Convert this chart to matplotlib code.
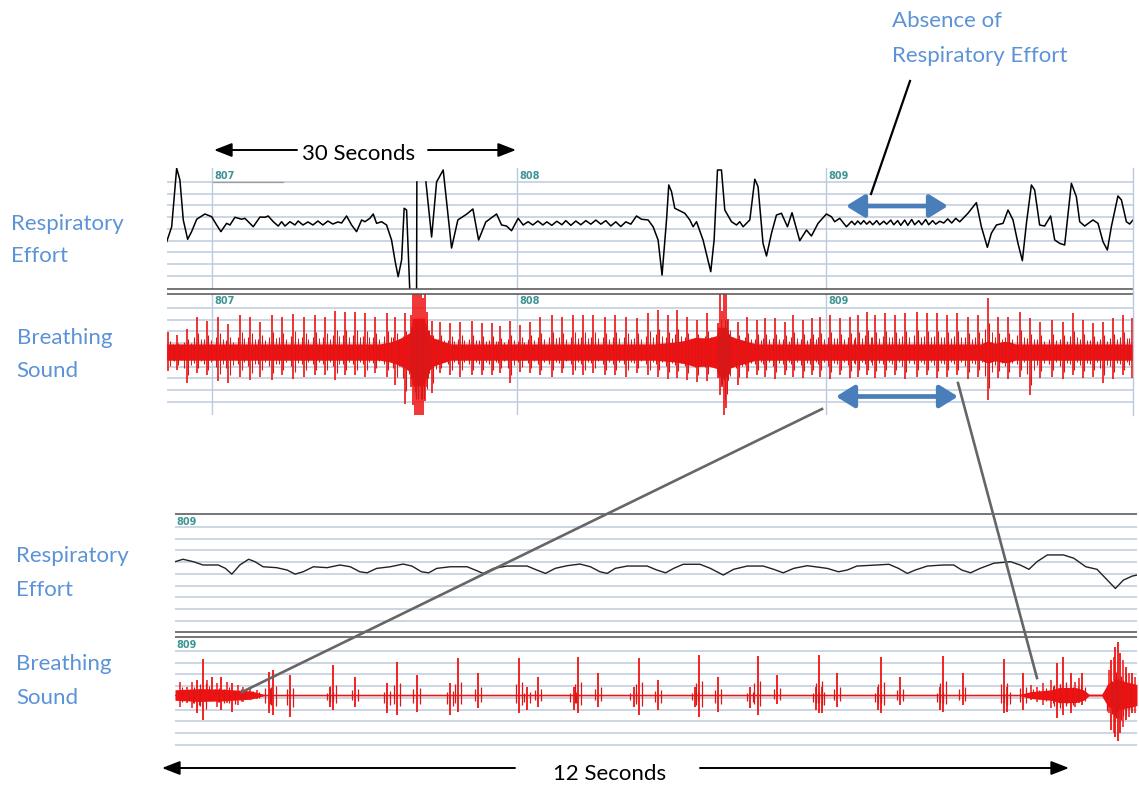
import numpy as np
import matplotlib
matplotlib.use('Agg')
import matplotlib.pyplot as plt

plt.rcParams['font.family'] = ['Lato', 'DejaVu Sans']

W, H = 1139, 785
NAN = float('nan')

# ---------------- data ----------------
epoch_labels = ['807', '808', '809']
epoch_times = [0.0, 30.0, 60.4]          # seconds, overview time axis
zoom_label = '809'

# Overview respiratory effort (time s, amplitude in grid divisions; nan = trace off-scale)
effort_t = [-4.45, -3.96, -3.47, -3.15, -2.82, -2.39, -2.00, -1.50, -0.69, -0.03,
            0.46, 0.88, 1.44, 1.77, 2.26, 2.92, 3.24, 4.06, 4.72, 5.21,
            5.53, 6.03, 6.52, 6.85, 7.18, 7.67, 8.16, 8.48, 8.95, 9.44,
            9.93, 10.42, 10.91, 11.40, 11.89, 12.39, 12.75, 13.24, 13.73, 14.22,
            14.72, 15.04, 15.53, 15.86, 16.19, 16.68, 17.17, 17.66, 17.99, 18.31,
            18.65, 18.90, 19.14, 19.46, 20.12, 20.15, 20.60, 21.04, 21.60, 22.09, 22.74,
            23.56, 24.18, 25.07, 25.66, 26.22, 26.93, 27.99, 28.48, 28.97, 29.46,
            30.11, 30.60, 31.09,
            31.55, 32.05, 32.54, 32.93, 33.42, 33.91, 34.41, 34.80, 35.29, 35.78,
            36.27, 36.76, 37.26, 37.75, 38.24, 38.73, 39.22, 39.71, 40.20, 40.70, 41.19,
            41.75, 42.24, 42.89, 43.38, 43.87, 44.26, 44.70, 44.92, 45.19, 45.51,
            46.50, 46.99, 47.31, 47.65, 48.29, 49.05, 49.38, 49.71, 50.10, 50.43,
            51.09, 51.58, 51.90, 52.23, 52.89, 53.38, 53.70, 54.19, 54.53, 55.02,
            55.51, 56.00, 56.59, 57.04, 57.80, 58.46, 58.95, 59.60, 60.42, 60.91,
            61.24, 61.73, 62.39,
            62.91, 63.21, 63.50, 63.80, 64.09, 64.39, 64.68, 64.98, 65.37, 65.66,
            66.06, 66.35, 66.75, 67.04, 67.43, 67.73, 68.12, 68.42, 68.81, 69.10,
            69.50, 69.79, 70.19, 70.48, 70.87, 71.17, 71.56, 71.96, 72.35, 72.74,
            73.14, 73.53,
            74.34, 75.17, 75.66, 76.25, 76.64, 77.14, 77.79, 78.28, 78.77, 79.26,
            79.69, 80.09, 80.58, 80.90, 81.39, 81.88, 82.47, 82.87, 83.36, 83.85,
            84.51, 85.00, 85.33, 85.82, 86.63, 87.13, 87.62, 88.05, 88.44, 89.09,
            89.43, 89.92, 90.24, 90.57]
effort_v = [-1.60, -0.32, 4.68, 3.68, 0.26, -1.39, -0.74, 0.32, 0.77, 0.54,
            -0.17, -0.74, -0.03, -0.17, 0.49, 0.32, 0.40, -0.32, 0.51, 0.49,
            0.60, 0.11, -0.26, 0.11, -0.26, 0.11, -0.17, 0.17, -0.17, 0.09,
            -0.17, 0.17, -0.17, 0.17, -0.09, 0.09, 0.00, 0.60, -0.17, -0.74,
            0.26, 0.11, 0.40, 0.77, -0.03, 0.11, -0.17, -1.45, -3.16, -4.59,
            -3.16, 1.26, 1.11, -5.90, -5.90, 3.51, NAN, 3.51, -1.20, 3.51, 4.53,
            -2.14, 0.26, 0.77, 1.20, -1.45, 0.09, 0.77, -0.17, -0.26, -0.66,
            0.40, -0.17, 0.11,
            -0.17, 0.17, -0.17, 0.10, -0.20, 0.15, -0.15, 0.20, -0.20, 0.17,
            -0.15, 0.20, -0.10, 0.25, -0.10, 0.20, -0.25, 0.10, -0.30, 0.10, -0.10,
            0.60, 0.32, 0.26, -0.32, -1.45, -4.45, 0.26, 3.25, 2.68, 1.26,
            0.83, 0.26, -0.32, 0.11, -1.45, -4.16, -1.45, 4.53, 4.53, 1.11,
            0.11, -0.17, 0.11, -0.32, 0.26, 3.74, 3.10, -1.74, -2.82, -0.88,
            0.68, 0.83, -0.32, 0.88, -1.51, -0.60, -1.11, -0.03, 0.77, 0.54,
            0.11, 0.40, -0.32,
            0.15, -0.15, 0.17, -0.10, 0.20, -0.10, 0.15, -0.15, 0.20, -0.15,
            0.15, -0.10, 0.25, -0.15, 0.20, -0.20, 0.25, -0.20, 0.30, -0.15,
            0.20, -0.15, 0.30, -0.15, 0.20, -0.10, 0.15, 0.00, 0.35, 0.00,
            0.40, 0.10,
            0.83, 1.74, -0.32, -2.08, -0.88, -0.17, -0.03, 1.11, 0.26, -1.74,
            -3.22, -0.03, 3.25, 2.82, -0.17, -0.26, 0.60, -1.45, -1.74, -1.88,
            3.39, 2.25, 0.11, -0.26, 0.26, -0.03, -1.60, -2.31, -0.32, 2.31,
            1.97, 0.11, -0.09, 0.26]

# Overview breathing sound: beat spikes (time s, top, bottom) and noise envelope
sound_spike_t = [-4.30, -3.47, -2.49, -1.50, -0.52, 0.62, 1.60, 2.75, 3.74, 4.72,
                 5.87, 6.85, 7.99, 9.04, 10.12, 11.11, 12.09, 13.07, 14.06, 15.04,
                 16.02, 17.17, 17.99, 18.97,
                 19.56, 19.76, 19.95, 20.15, 20.35, 20.54, 20.74, 20.94, 21.13,
                 21.60, 22.41, 23.40, 24.38, 25.53, 26.51, 27.49, 28.31, 29.29, 30.28,
                 31.26, 32.24, 33.39, 34.38, 35.52, 36.50, 37.48, 38.63, 39.61, 40.76,
                 41.75, 42.89, 43.84, 44.82, 45.71, 46.69, 47.68, 48.66,
                 49.74, 49.94, 50.14, 50.33, 50.53, 50.73,
                 51.71, 52.60, 53.58, 54.37, 55.35, 56.33, 57.12, 58.10, 58.98, 59.77,
                 60.75, 61.73, 62.72, 63.50, 64.39, 65.17, 66.16, 67.14, 68.12, 69.30,
                 70.28, 71.27, 72.25, 73.23, 74.31, 75.30, 76.28, 77.26, 78.25, 79.43,
                 80.41, 81.39, 82.57, 83.65, 84.64, 85.62, 86.60, 87.59, 88.57, 89.55,
                 90.44]
sound_spike_hi = [1.74, 1.45, 2.00, 3.00, 2.65, 3.00, 2.37, 3.16, 3.00, 2.60,
                  3.16, 3.00, 3.22, 3.00, 3.16, 3.00, 3.50, 3.45, 3.45, 3.30,
                  3.00, 3.30, 3.00, 3.30,
                  3.2, 5.0, 5.0, 5.0, 5.0, 5.0, 4.6, 5.0, 3.4,
                  2.65, 2.60, 2.50, 2.60, 2.65, 2.50, 2.50, 2.20, 2.65, 2.30,
                  2.60, 3.00, 3.16, 3.00, 3.16, 3.16, 3.16, 3.00, 3.16, 3.00,
                  2.90, 3.30, 3.59, 3.16, 3.59, 3.02, 2.74, 3.30,
                  2.5, 5.0, 3.5, 5.0, 5.0, 2.8,
                  2.59, 3.02, 2.74, 2.88, 2.88, 2.59, 3.16, 2.74, 2.88, 3.02,
                  3.16, 2.88, 3.02, 3.16, 3.45, 3.16, 3.30, 3.16, 3.30, 3.45,
                  3.30, 3.30, 3.16, 3.30, 3.02, 3.16, 4.59, 3.02, 3.02, 3.45,
                  2.88, 2.59, 2.74, 2.59, 3.30, 2.74, 2.45, 2.59, 2.88, 3.16,
                  2.88]
sound_spike_lo = [-1.60, -1.50, -2.65, -1.80, -2.00, -2.50, -2.65, -2.10, -2.40, -2.10,
                  -2.40, -2.00, -2.30, -2.10, -2.00, -2.00, -2.40, -2.00, -2.00, -2.10,
                  -1.80, -2.10, -2.80, -4.40,
                  -3.0, -4.5, -5.4, -5.4, -5.4, -5.4, -5.4, -4.2, -3.0,
                  -3.50, -1.80, -2.00, -2.10, -2.00, -2.00, -2.00, -1.80, -2.65, -1.70,
                  -1.80, -2.00, -2.10, -1.80, -2.00, -2.00, -1.80, -2.00, -2.00, -2.10,
                  -1.80, -2.00, -2.10, -2.30, -2.20, -2.40, -2.60, -2.50,
                  -2.2, -3.7, -3.0, -5.4, -4.8, -2.5,
                  -2.80, -2.20, -2.00, -2.10, -2.30, -2.00, -2.10, -2.20, -2.00, -2.10,
                  -2.30, -2.00, -2.20, -2.10, -2.00, -2.20, -2.10, -2.00, -2.30, -2.10,
                  -2.00, -2.20, -2.10, -2.00, -2.30, -2.10, -4.10, -2.20, -2.30, -2.10,
                  -3.70, -2.20, -2.10, -2.30, -2.00, -2.20, -2.10, -2.65, -2.30, -2.00,
                  -2.20]
sound_env_t = [-4.45, 16.5, 17.5, 18.3, 19.0, 19.5, 19.7, 20.9, 21.2, 21.8,
               22.6, 23.5, 43.5, 45.5, 46.5, 47.5, 48.8, 49.6, 49.8, 50.6,
               50.9, 51.5, 52.5, 53.5, 75.6, 76.3, 77.0, 77.8, 78.3, 79.0, 90.6]
sound_env = [0.70, 0.70, 0.85, 1.10, 1.40, 1.70, 2.90, 2.90, 1.70, 1.20,
             0.95, 0.70, 0.70, 0.85, 1.00, 1.25, 1.20, 1.40, 2.10, 2.10,
             1.40, 1.20, 0.95, 0.70, 0.70, 0.95, 0.75, 0.90, 0.90, 0.70, 0.70]

# 12-second zoom: respiratory effort
zoom_effort_t = [0.00, 0.10, 0.23, 0.35, 0.54, 0.63, 0.71, 0.81, 0.92, 1.00,
                 1.10, 1.27, 1.40, 1.50, 1.60, 1.73, 1.90, 2.06, 2.19, 2.31,
                 2.40, 2.52, 2.69, 2.85, 2.96, 3.08, 3.17, 3.27, 3.44, 3.65,
                 3.75, 3.85, 3.98, 4.15, 4.40, 4.52, 4.63, 4.75, 4.90, 5.06,
                 5.19, 5.31, 5.40, 5.50, 5.65, 5.90, 6.02, 6.13, 6.23, 6.35,
                 6.56, 6.69, 6.85, 6.98, 7.15, 7.35, 7.48, 7.60, 7.73, 7.90,
                 8.15, 8.29, 8.40, 8.52, 8.77, 8.92, 9.04, 9.15, 9.25, 9.40,
                 9.60, 9.73, 9.83, 9.94, 10.06, 10.23, 10.44, 10.56, 10.67, 10.77,
                 10.90, 11.10, 11.23, 11.38, 11.52, 11.63, 11.75, 11.85, 11.96, 12.02]
zoom_effort_v = [0.54, 0.75, 0.54, 0.26, 0.26, -0.03, -0.52, 0.26, 0.75, 0.54,
                 0.11, 0.03, -0.17, -0.52, -0.32, 0.11, 0.03, 0.26, 0.11, -0.32,
                 -0.41, -0.03, 0.11, 0.34, 0.17, -0.32, -0.41, -0.03, 0.11, 0.11,
                 -0.17, -0.46, -0.03, 0.17, 0.17, -0.17, -0.46, -0.03, 0.20, 0.34,
                 0.11, -0.32, -0.46, -0.03, 0.17, 0.17, -0.17, -0.41, -0.03, 0.32,
                 0.32, -0.03, -0.60, -0.11, 0.17, 0.17, -0.11, -0.41, -0.03, 0.20,
                 -0.03, -0.32, -0.17, 0.17, 0.26, 0.32, -0.03, -0.46, -0.17, 0.17,
                 0.26, 0.26, -0.17, -0.41, -0.03, 0.41, 0.54, 0.26, -0.11, 0.54,
                 1.12, 1.12, 0.84, 0.11, -0.11, -0.89, -1.75, -1.03, -0.69, -0.60]

# 12-second zoom: breathing sound beat spikes
zoom_spike_t = [0.27, 0.35, 0.46, 0.58, 0.71,
                1.17, 1.23, 1.44,
                1.94, 1.98, 2.25,
                2.65, 2.78, 3.02,
                3.44, 3.54, 3.79,
                4.30, 4.40, 4.54,
                4.98, 5.04, 5.29,
                5.73, 5.80, 6.04,
                6.50, 6.55, 6.79,
                7.19, 7.28, 7.52,
                8.01, 8.05, 8.08, 8.27,
                8.79, 8.82, 9.06,
                9.56, 9.60, 9.84,
                10.36, 10.40, 10.60,
                11.02, 11.10, 11.19, 11.33,
                11.69, 11.75, 11.78, 11.81, 11.88, 11.96]
zoom_spike_hi = [1.28, 3.05, 1.57, 1.57, 1.00,
                 1.99, 2.14, 1.71,
                 0.71, 2.56, 1.57,
                 0.99, 2.85, 1.71,
                 1.00, 3.14, 1.85,
                 3.14, 0.71, 1.57,
                 0.71, 3.28, 1.85,
                 0.71, 3.14, 1.28,
                 0.71, 3.42, 1.57,
                 0.71, 3.33, 1.71,
                 0.71, 3.42, 0.71, 1.85,
                 0.71, 3.28, 1.57,
                 0.71, 3.33, 1.85,
                 3.05, 0.71, 1.91,
                 2.76, 3.28, 1.85, 1.85,
                 2.99, 4.13, 4.56, 3.56, 2.42, 1.85]
zoom_spike_lo = [-1.57, -2.14, -0.43, -1.28, -1.43,
                 -1.57, -1.71, -1.85,
                 -1.00, -1.28, -1.00,
                 -1.57, -1.71, -1.43,
                 -1.71, -1.43, -1.14,
                 -1.57, -1.28, -1.00,
                 -1.28, -1.57, -1.00,
                 -1.00, -1.71, -1.28,
                 -1.00, -1.85, -1.43,
                 -1.14, -1.71, -0.77,
                 -1.28, -1.57, -1.51, -1.00,
                 -1.28, -1.57, -0.85,
                 -1.28, -1.43, -0.85,
                 -1.51, -1.43, -1.28,
                 -1.99, -1.71, -1.57, -0.85,
                 -2.99, -3.56, -3.91, -3.28, -2.14, -1.57]
# 12-second zoom: noisy (snoring) segments, extra spikes
zoom_noise_t = [0.06, 0.15, 0.21, 0.40, 0.52, 0.65, 0.79, 0.85, 0.94, 1.02,
                10.69, 10.77, 10.85, 10.94, 11.25, 11.29,
                11.67, 11.73, 11.85, 11.92, 12.00]
zoom_noise_hi = [1.14, 0.71, 1.14, 1.28, 1.00, 1.14, 0.85, 0.71, 0.57, 0.43,
                 0.85, 0.71, 1.00, 1.28, 1.14, 1.42,
                 2.14, 3.28, 2.99, 1.85, 1.57]
zoom_noise_lo = [-1.00, -0.71, -1.14, -0.43, -1.00, -0.71, -0.85, -0.57, -0.43, -0.37,
                 -0.43, -0.57, -0.85, -1.14, -1.00, -0.71,
                 -1.57, -3.28, -2.71, -1.85, -1.57]
zoom_env_t = [0.00, 0.30, 0.60, 0.95, 1.08, 1.12, 10.55, 10.70, 10.95, 11.05,
              11.25, 11.35, 11.42, 11.58, 11.66, 11.78, 11.90, 12.02]
zoom_env = [0.45, 0.55, 0.50, 0.35, 0.12, 0.06, 0.06, 0.30, 0.45, 0.65,
            0.65, 0.45, 0.08, 0.08, 1.00, 1.30, 1.10, 0.90]

# ---------------- styling ----------------
BLUE_TXT = '#5B93D6'
ARROW_BLUE = '#4A7EBB'
GRID = '#C7D3E1'
VGRID = '#B9CBDD'
SEP = '#4F4F4F'
RED = '#F01212'
DRED = '#D81818'
TEAL = '#3E9494'
FS = 16

fig = plt.figure(figsize=(W / 100, H / 100), dpi=100)
fig.patch.set_facecolor('white')


def px_axes(x0, y0, x1, y1):
    ax = fig.add_axes([x0 / W, 1 - y1 / H, (x1 - x0) / W, (y1 - y0) / H])
    ax.set_axis_off()
    return ax


def arr(a):
    return np.asarray(a, dtype=float)


# overview strips
ax_eff = px_axes(167, 168, 1133, 289)
ax_eff.set_xlim(-4.42, 90.57)
ax_eff.set_ylim(-5.64, 4.70)
ax_snd = px_axes(167, 294, 1133, 415)
ax_snd.set_xlim(-4.42, 90.57)
ax_snd.set_ylim(-5.38, 4.96)

# zoom strips
ax_zeff = px_axes(175, 514, 1137, 632)
ax_zeff.set_xlim(0, 12.02)
ax_zeff.set_ylim(-5.47, 4.62)
ax_zsnd = px_axes(175, 637, 1137, 758)
ax_zsnd.set_xlim(0, 12.02)
ax_zsnd.set_ylim(-5.38, 4.96)

for ax in (ax_eff, ax_zeff):
    for k in range(-5, 4):
        ax.axhline(k + 0.5, color=GRID, lw=1.3, zorder=0)
for ax in (ax_snd, ax_zsnd):
    for k in range(9):
        ax.axhline(3.76 - k, color=GRID, lw=1.3, zorder=0)

for ax, yl in ((ax_eff, 0.935), (ax_snd, 0.942)):
    for t, lab in zip(epoch_times, epoch_labels):
        ax.axvline(t, color=VGRID, lw=1.0, zorder=0.5)
        ax.text(t + 0.2, yl, lab, transform=ax.get_xaxis_transform(),
                fontsize=7, color=TEAL, fontweight='bold', family='DejaVu Sans',
                ha='left', va='center', zorder=1)

# overview effort trace
n = min(len(effort_t), len(effort_v))
ax_eff.plot(arr(effort_t[:n]), arr(effort_v[:n]), color='black', lw=1.1,
            solid_joinstyle='round', zorder=3)

# overview sound
et, ev = arr(sound_env_t), arr(sound_env)
ax_snd.fill_between(et, -ev, ev, color=RED, lw=0, zorder=2)
st, sh, sl = arr(sound_spike_t), arr(sound_spike_hi), arr(sound_spike_lo)
ax_snd.vlines(st, sl, sh, color=RED, lw=1.2, zorder=3)
ax_snd.vlines(st + 0.16, 0.75 * sl, 0.55 * sh, color=DRED, lw=0.8, zorder=3)
ax_snd.vlines(st - 0.22, 0.5 * sl, 0.42 * sh, color=DRED, lw=0.8, zorder=3)
ax_snd.vlines(st + 0.45, 0.42 * sl, 0.38 * sh, color=DRED, lw=0.7, zorder=3)

# zoom effort trace
n = min(len(zoom_effort_t), len(zoom_effort_v))
ax_zeff.plot(arr(zoom_effort_t[:n]), arr(zoom_effort_v[:n]), color='#222222',
             lw=1.0, solid_joinstyle='round', zorder=3)

# zoom sound
zt, zv = arr(zoom_env_t), arr(zoom_env)
ax_zsnd.fill_between(zt, -zv, zv, color=RED, lw=0, zorder=2)
ax_zsnd.plot([0, 12.02], [0, 0], color=RED, lw=0.9, zorder=2)
kt, kh, kl = arr(zoom_spike_t), arr(zoom_spike_hi), arr(zoom_spike_lo)
ax_zsnd.vlines(kt, kl, kh, color=RED, lw=1.3, zorder=3)
ax_zsnd.vlines(kt + 0.035, 0.55 * kl, 0.35 * kh, color=DRED, lw=0.9, zorder=3)
ax_zsnd.vlines(kt - 0.04, 0.45 * kl, 0.30 * kh, color=DRED, lw=0.9, zorder=3)
nt, nh, nl = arr(zoom_noise_t), arr(zoom_noise_hi), arr(zoom_noise_lo)
ax_zsnd.vlines(nt, nl, nh, color=RED, lw=1.1, zorder=3)
ax_zsnd.vlines(nt + 0.03, 0.6 * nl, 0.6 * nh, color=DRED, lw=0.8, zorder=3)

# ---------------- overlay (pixel coordinates) ----------------
ov = fig.add_axes([0, 0, 1, 1])
ov.set_xlim(0, W)
ov.set_ylim(H, 0)
ov.set_axis_off()
ov.patch.set_alpha(0)
ov.set_zorder(10)

# separators
for y, x0, x1 in ((289, 167, 1133), (294, 167, 1133), (514, 175, 1137),
                  (632, 175, 1137), (637, 175, 1137)):
    ov.plot([x0, x1], [y, y], color=SEP, lw=1.1, solid_capstyle='butt')
ov.plot([1133, 1133], [168, 415], color=VGRID, lw=1.0)
ov.plot([213, 283], [182, 182], color='#9A9A9A', lw=0.9)

# zoom strip labels
for y in (522, 645):
    ov.text(176, y, zoom_label, fontsize=7, color=TEAL, fontweight='bold',
            family='DejaVu Sans', ha='left', va='center')

# left labels and annotation text
for x, y, s in ((10.7, 230, 'Respiratory'), (10.7, 262.5, 'Effort'),
                (16.7, 343.5, 'Breathing'), (16.7, 377, 'Sound'),
                (16, 561.5, 'Respiratory'), (16, 595.5, 'Effort'),
                (16, 670.5, 'Breathing'), (16, 704.5, 'Sound'),
                (892, 27.3, 'Absence of'), (892, 61.7, 'Respiratory Effort')):
    ov.text(x, y, s, fontsize=FS, color=BLUE_TXT, ha='left', va='baseline')

# 30 seconds
ov.text(359, 159.5, '30 Seconds', fontsize=FS, color='black', ha='center', va='baseline')
blk = dict(arrowstyle='-|>,head_length=0.9,head_width=0.35', color='black', lw=1.4,
           mutation_scale=12, shrinkA=0, shrinkB=0)
ov.annotate('', xy=(214, 150), xytext=(297, 150), arrowprops=blk)
ov.annotate('', xy=(516, 150), xytext=(428, 150), arrowprops=blk)

# 12 seconds
ov.text(610, 780.5, '12 Seconds', fontsize=FS, color='black', ha='center', va='baseline')
ov.annotate('', xy=(162, 768), xytext=(515, 768), arrowprops=blk)
ov.annotate('', xy=(1069, 768), xytext=(700, 768), arrowprops=blk)

# blue double arrows
bl = dict(arrowstyle='<|-|>,head_length=0.55,head_width=0.34', color=ARROW_BLUE,
          lw=3.4, mutation_scale=20, shrinkA=0, shrinkB=0)
ov.annotate('', xy=(846, 206), xytext=(948, 206), arrowprops=bl)
ov.annotate('', xy=(836, 396.5), xytext=(958, 396.5), arrowprops=bl)

# pointer line
ov.plot([910, 871], [81, 194], color='black', lw=1.6)

# zoom connector lines
ov.plot([822, 242], [409, 692], color='#666666', lw=1.9)
ov.plot([958, 1037], [383, 678], color='#666666', lw=1.9)

fig.savefig('out.png', dpi=100)
